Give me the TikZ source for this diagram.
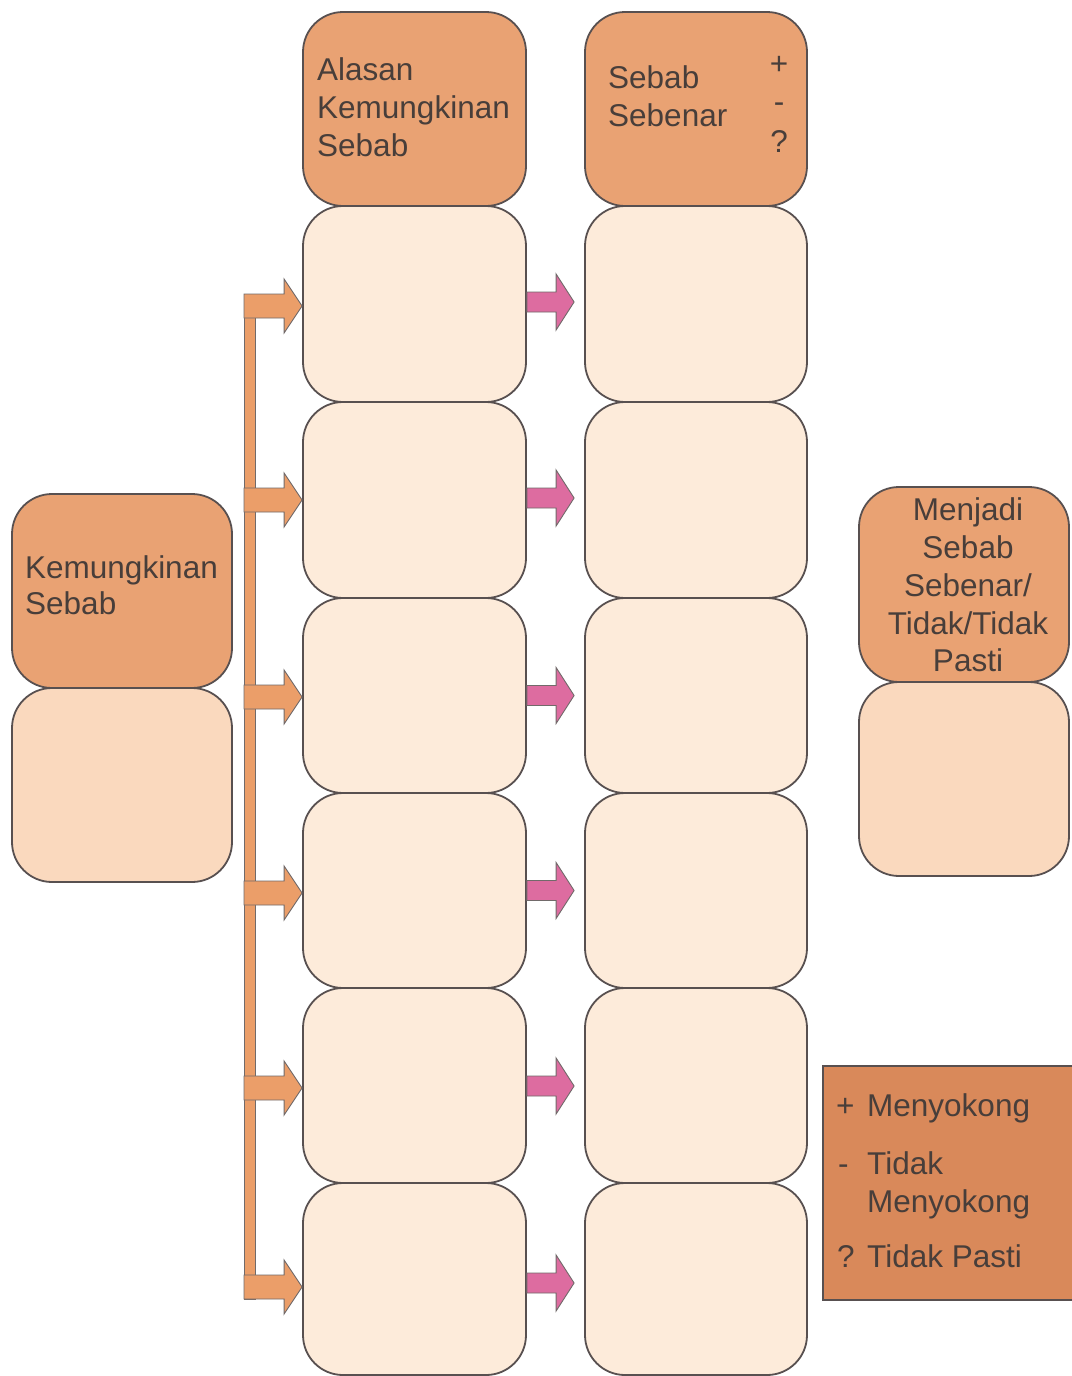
\documentclass[tikz,border=0pt]{standalone}
\usepackage{fontspec}
\setmainfont{Liberation Sans}
\usetikzlibrary{calc}
\definecolor{hdr}{RGB}{233,162,115}
\definecolor{cell}{RGB}{253,235,218}
\definecolor{cellb}{RGB}{250,217,190}
\definecolor{legendc}{RGB}{217,137,90}
\definecolor{oarrow}{RGB}{235,158,105}
\definecolor{parrow}{RGB}{221,108,160}
\definecolor{edge}{RGB}{88,80,80}
\definecolor{txt}{RGB}{72,62,58}
\newcommand\fatarrow[5]{%
  \draw[#1] let \p1=(#2), \p2=(#3) in
    (\x1,\y1+#4pt) -- (\x2-18pt,\y1+#4pt) -- (\x2-18pt,\y1+#5pt) -- (\x2,\y1)
    -- (\x2-18pt,\y1-#5pt) -- (\x2-18pt,\y1-#4pt) -- (\x1,\y1-#4pt) -- cycle;}
\begin{document}
\begin{tikzpicture}[x=1pt,y=-1pt,
  box/.style={draw=edge, line width=1.8pt, rounded corners=40pt, inner sep=0pt},
  hbox/.style={box, fill=hdr},
  cbox/.style={box, fill=cell},
  bbox/.style={box, fill=cellb},
  col1/.style={minimum width=223pt},
  col2/.style={minimum width=222pt},
  lbl/.style={font=\fontsize{31.5}{38}\selectfont, text=txt, inner sep=0pt},
  oshape/.style={fill=oarrow, draw=edge!85, line width=0.9pt, line join=miter},
  pshape/.style={fill=parrow, draw=edge!85, line width=0.9pt, line join=miter}]
\useasboundingbox (0,0) rectangle (1071,1376);
\fill[white] (0,0) rectangle (1071,1376);

% column 1
\node[hbox, col1, minimum height=194pt] (h1) at (414.5,109) {};
\node[cbox, col1, minimum height=196pt] (a1) at (414.5,304) {};
\node[cbox, col1, minimum height=196pt] (a2) at (414.5,500) {};
\node[cbox, col1, minimum height=195pt] (a3) at (414.5,695.5) {};
\node[cbox, col1, minimum height=195pt] (a4) at (414.5,890.5) {};
\node[cbox, col1, minimum height=195pt] (a5) at (414.5,1085.5) {};
\node[cbox, col1, minimum height=192pt] (a6) at (414.5,1279) {};
% column 2
\node[hbox, col2, minimum height=194pt] (h2) at (696,109) {};
\node[cbox, col2, minimum height=196pt] (s1) at (696,304) {};
\node[cbox, col2, minimum height=196pt] (s2) at (696,500) {};
\node[cbox, col2, minimum height=195pt] (s3) at (696,695.5) {};
\node[cbox, col2, minimum height=195pt] (s4) at (696,890.5) {};
\node[cbox, col2, minimum height=195pt] (s5) at (696,1085.5) {};
\node[cbox, col2, minimum height=192pt] (s6) at (696,1279) {};
% left
\node[hbox, minimum width=220pt, minimum height=194pt] (kh) at (122,591) {};
\node[bbox, minimum width=220pt, minimum height=194pt] (kb) at (122,785) {};
% right
\node[hbox, minimum width=210pt, minimum height=195pt] (mh) at (964,584.5) {};
\node[bbox, minimum width=210pt, minimum height=194pt] (mb) at (964,779) {};
% legend
\node[draw=edge, line width=1.8pt, fill=legendc, inner sep=0pt,
      minimum width=252pt, minimum height=234pt] (leg) at (949,1183) {};

% bracket and arrows
\coordinate (barx) at (244,0);
\draw[oshape] ($(barx |- a1.west)+(0,-10)$) rectangle ($(barx |- a6.west)+(11,20)$);
\foreach \i/\ofs/\pfs in {1/2/-2,2/0/-2,3/1.5/0,4/2.5/0,5/2.5/0.5,6/8/4}{
  \coordinate (ob\i) at ($(barx |- a\i.west)+(0,\ofs)$);
  \coordinate (oe\i) at ($(a\i.west)+(0,\ofs)$);
  \coordinate (pb\i) at ($(a\i.east)+(0,\pfs)$);
  \coordinate (pe\i) at ($(s\i.west)+(-10,\pfs)$);
  \fatarrow{oshape}{ob\i}{oe\i}{12}{27}
  \fatarrow{pshape}{pb\i}{pe\i}{10}{28}
}

% texts
\node[lbl, anchor=base west] (t1) at (317,80) {Alasan};
\node[lbl, anchor=base west] (t2) at (317,118) {Kemungkinan};
\node[lbl, anchor=base west] (t3) at (317,156) {Sebab};
\node[lbl, anchor=base west] (t4) at (608,88) {Sebab};
\node[lbl, anchor=base west] (t5) at (608,126) {Sebenar};
\node[lbl, anchor=base] (t6) at (779,74) {+};
\node[lbl, anchor=base] (t7) at (779,112) {-};
\node[lbl, anchor=base] (t8) at (779,152) {?};
\node[lbl, anchor=base west] (t9) at (25,578) {Kemungkinan};
\node[lbl, anchor=base west] (t10) at (25,614) {Sebab};
\node[lbl, anchor=base] (t11) at (968,520) {Menjadi};
\node[lbl, anchor=base] (t12) at (968,558) {Sebab};
\node[lbl, anchor=base] (t13) at (968,596) {Sebenar/};
\node[lbl, anchor=base] (t14) at (968,634) {Tidak/Tidak};
\node[lbl, anchor=base] (t15) at (968,671) {Pasti};
\node[lbl, anchor=base west] (t16) at (836,1116) {+};
\node[lbl, anchor=base west] (t17) at (867,1116) {Menyokong};
\node[lbl, anchor=base west] (t18) at (838,1174) {-};
\node[lbl, anchor=base west] (t19) at (867,1174) {Tidak};
\node[lbl, anchor=base west] (t20) at (867,1212) {Menyokong};
\node[lbl, anchor=base west] (t21) at (837,1267) {?};
\node[lbl, anchor=base west] (t22) at (867,1267) {Tidak Pasti};
\end{tikzpicture}
\end{document}
